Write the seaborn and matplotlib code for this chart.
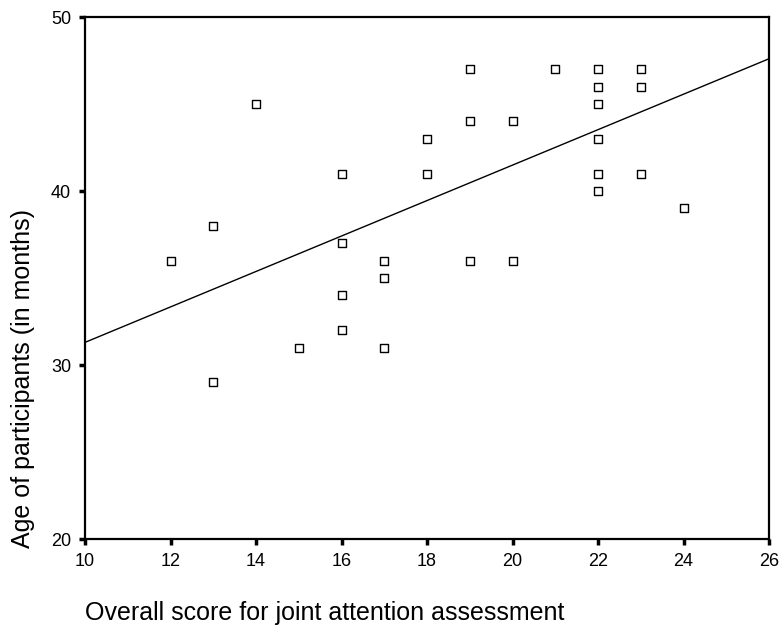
import matplotlib
matplotlib.use("Agg")
import matplotlib.pyplot as plt
import seaborn as sns
import pandas as pd

# Joint attention score vs. age of each participant
score = [12, 13, 13, 14, 15, 16, 16, 16, 16, 17, 17, 17, 18, 18, 19, 19, 19,
         20, 20, 21, 22, 22, 22, 22, 22, 22, 23, 23, 23, 24]
age = [36, 38, 29, 45, 31, 41, 37, 34, 32, 36, 35, 31, 43, 41, 47, 44, 36,
       44, 36, 47, 47, 46, 45, 43, 41, 40, 47, 46, 41, 39]

# Fitted regression line across the x range
fit_x = [10, 26]
fit_y = [31.3, 47.6]

x_ticks = [10, 12, 14, 16, 18, 20, 22, 24, 26]
y_ticks = [20, 30, 40, 50]

sns.set_theme(style="white")
plt.rcParams["font.family"] = ["Liberation Sans", "DejaVu Sans"]

df = pd.DataFrame({"score": score, "age": age})
fit = pd.DataFrame({"x": fit_x, "y": fit_y})

fig = plt.figure(figsize=(7.79, 6.33), dpi=100)
ax = fig.add_axes([85 / 779, 1 - 539 / 633, (769 - 85) / 779, (539 - 17) / 633])

sns.lineplot(data=fit, x="x", y="y", ax=ax, color="black", linewidth=1.0)
sns.scatterplot(data=df, x="score", y="age", ax=ax, marker="s", s=30,
                facecolor="white", edgecolor="black", linewidth=1.0, zorder=3)

ax.set_xlim(10, 26)
ax.set_ylim(20, 50)
ax.set_xticks(x_ticks)
ax.set_yticks(y_ticks)
ax.set_xlabel("")
ax.set_ylabel("")
ax.tick_params(axis="both", which="major", direction="out", length=4, width=2.5,
               color="black", labelsize=13, labelcolor="black",
               bottom=True, left=True)
ax.tick_params(axis="x", pad=6)
ax.tick_params(axis="y", pad=6)
for side in ["left", "right", "top", "bottom"]:
    ax.spines[side].set_visible(True)
    ax.spines[side].set_color("black")
    ax.spines[side].set_linewidth(1.6)
ax.grid(False)

fig.text(23 / 779, 1 - 378 / 633, "Age of participants (in months)",
         rotation=90, ha="center", va="center", fontsize=18, color="black")
fig.text(85 / 779, 1 - 613 / 633, "Overall score for joint attention assessment",
         ha="left", va="center", fontsize=18, color="black")

fig.savefig("out.png", dpi=100, facecolor="white")
